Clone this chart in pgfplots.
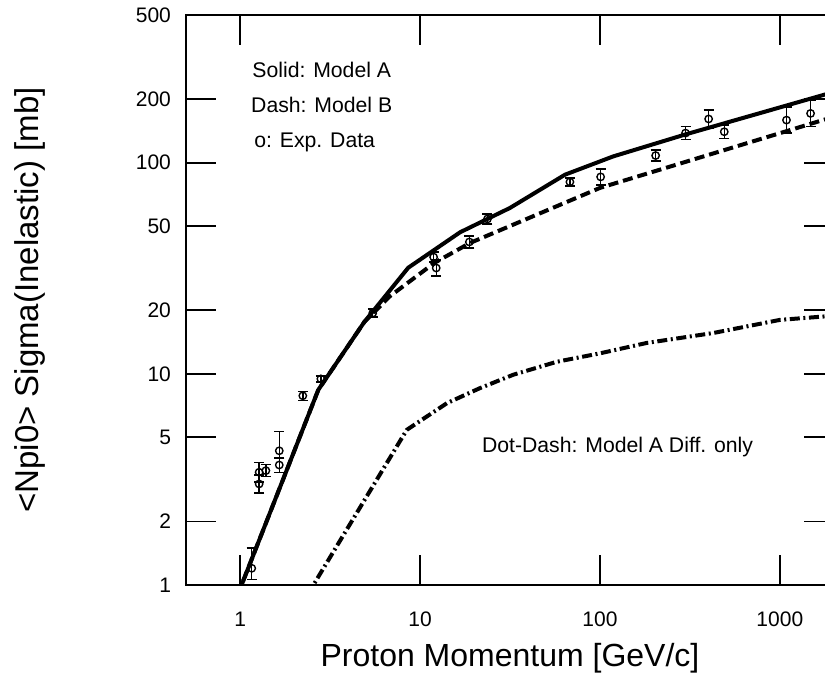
\documentclass[border=0pt]{standalone}
\usepackage{pgfplots}
\pgfplotsset{compat=1.18}
\usepackage{fontspec}
\setmainfont{Liberation Sans}

\begin{document}
\begin{tikzpicture}
\useasboundingbox (-93pt,-48pt) rectangle (319.5pt,292.5pt);
\begin{axis}[
  at={(0pt,0pt)}, anchor=south west,
  scale only axis, width=324pt, height=285pt,
  xmode=log, ymode=log,
  xmin=0.5, xmax=2000, ymin=1, ymax=500,
  xtick={1,10,100,1000}, xticklabels={1,10,100,1000},
  ytick={1,2,5,10,20,50,100,200,500}, yticklabels={1,2,5,10,20,50,100,200,500},
  xminorticks=false, yminorticks=false,
  tick align=inside, tick pos=both, major tick length=15pt,
  axis line style={line width=1pt},
  every tick/.style={black, line width=0.9pt},
  ticklabel style={font=\fontsize{10.5}{12}\selectfont},
  xticklabel style={yshift=-10pt},
  yticklabel style={xshift=-4pt},
  xlabel={Proton Momentum [GeV/c]},
  ylabel={<Npi0> Sigma(Inelastic) [mb]},
  xlabel style={font=\fontsize{16}{18}\selectfont, at={(axis description cs:0.5,-0.128)}, anchor=center},
  ylabel style={font=\fontsize{16.5}{18}\selectfont, at={(axis description cs:-0.2407,0.5)}, anchor=center},
  clip=true,
]
% Model A (solid)
\addplot[black, line width=2pt, line join=round] coordinates {
 (0.97,0.9) (2.72,8.4) (4.9,17.6) (8.6,31.8) (16.7,46.8) (31.6,61) (64,87.7)
 (118.5,107) (299,136) (1778,210) (2000,216)
};
% Model B (dashed)
\addplot[black, line width=2pt, line join=round, dash pattern=on 5pt off 2.5pt] coordinates {
 (0.97,0.9) (2.72,8.4) (4.9,17.6) (6.8,23.3) (12,33.5) (18.9,41.6) (100,75.9)
 (1778,160) (2000,165)
};
% Model A Diff. only (dot-dash)
\addplot[black, line width=2pt, line join=round, dash pattern=on 5pt off 1.8pt on 1pt off 1.8pt] coordinates {
 (2.37,0.9) (8.44,5.43) (14.1,7.26) (21.5,8.55) (33,9.9) (57.5,11.4) (100,12.5)
 (182,14.0) (426,15.6) (1000,18.0) (1778,18.7) (2000,18.8)
};
% Experimental data
\addplot[black, only marks, mark=o, mark size=1.85pt, mark options={line width=0.7pt},
  error bars/.cd, y dir=both, y explicit,
  error bar style={line width=0.7pt},
  error mark=-,
  error mark options={rotate=90, mark size=2.5pt, line width=0.7pt}]
  table[x=x, y=y, y error plus=ep, y error minus=em] {
x      y     ep    em
1.16   1.20  0.30  0.14
1.275  3.01  0.31  0.28
1.275  3.42  0.39  0.35
1.39   3.48  0.24  0.22
1.65   4.32  1.01  0.33
1.65   3.70  0.31  0.28
2.23   7.87  0.39  0.37
2.81   9.46  0.31  0.30
5.46   19.4  0.87  0.83
11.9   35.7  2.0   1.9
12.3   31.7  2.9   2.6
18.8   42.1  2.9   2.7
23.7   54.1  3.0   2.9
68.1   81.0  3.6   3.5
100.9  85.6  7.8   7.1
204    108   6.7   6.3
299    138   10.5  9.7
402    161   16.6  15.0
491    140   10.4  9.6
1089   159   24.2  21.0
1482   171   26.0  22.6
};
\node[inner sep=0pt, anchor=base west, font=\fontsize{10.6}{12}\selectfont] at (axis description cs:0.1019,0.8912) {Solid: Model A};
\node[inner sep=0pt, anchor=base west, font=\fontsize{10.6}{12}\selectfont] at (axis description cs:0.1000,0.8298) {Dash: Model B};
\node[inner sep=0pt, anchor=base west, font=\fontsize{10.6}{12}\selectfont] at (axis description cs:0.1050,0.7684) {o: Exp. Data};
\node[inner sep=0pt, anchor=base west, font=\fontsize{10.6}{12}\selectfont] at (axis description cs:0.4563,0.2321) {Dot-Dash: Model A Diff. only};
\end{axis}
\end{tikzpicture}
\end{document}
